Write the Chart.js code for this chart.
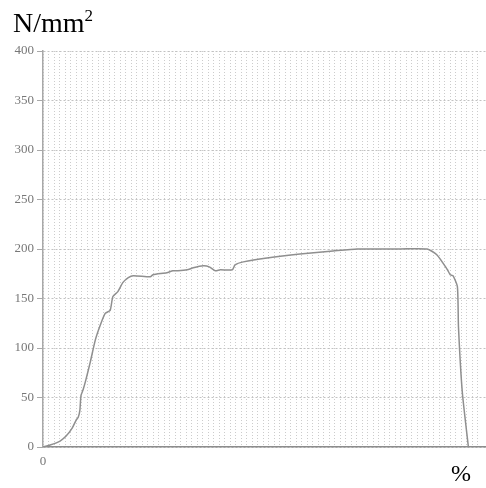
<!DOCTYPE html>
<html>
<head>
<meta charset="utf-8">
<script src="https://cdn.jsdelivr.net/npm/chart.js@4/dist/chart.umd.min.js"></script>
<style>
  body { margin: 0; background: #fff; }
  #wrap { position: relative; width: 486px; height: 488px; }
  #unitY { position: absolute; left: 13px; top: 6px; font-family: "Liberation Serif", serif; font-size: 28px; color: #000; }
  #unitY sup { font-size: 17px; vertical-align: 11px; }
  #unitX { position: absolute; left: 451px; top: 460px; font-family: "Liberation Serif", serif; font-size: 24px; color: #000; }
</style>
</head>
<body>
<div id="wrap">
  <canvas id="stress-chart" width="486" height="488"></canvas>
  <div id="unitY">N/mm<sup>2</sup></div>
  <div id="unitX">%</div>
</div>
<script>
// strain (%) and stress (N/mm2)
const strain = [0, 1.3, 3.1, 4.2, 5.3, 6.0, 6.4, 6.7, 6.9, 7.3, 7.8, 8.6, 9.5, 10.4, 11.3, 12.2, 12.7, 13.6, 14.5, 15.5, 16.4, 19.5, 20.0, 22.5, 23.6, 24.5, 26.2, 27.3, 29.1, 30.2, 31.3, 32.2, 34.4, 34.9, 36.4, 40.7, 46.7, 52.7, 57.1, 64.9, 69.8, 71.6, 73.5, 74.0, 74.5, 75.3, 75.5, 76.2, 77.3];
const stress = [0, 2, 6, 11, 19, 27, 30, 37, 52, 58, 68, 86, 108, 123, 135, 138, 152, 157, 166, 171, 173, 172, 174, 176, 178, 178, 179, 181, 183, 182, 178, 179, 179, 184, 187, 191, 195, 198, 200, 200, 200, 194, 179, 174, 173, 162, 121, 55, 0];
const yTicks = [0, 50, 100, 150, 200, 250, 300, 350, 400];

const points = strain.map((x, i) => ({ x: x, y: stress[i] }));

new Chart(document.querySelector('#stress-chart').getContext('2d'), {
    type: 'line',
    data: {
        datasets: [{
            data: points,
            borderColor: '#8f8f8f',
            borderWidth: 1.5,
            pointRadius: 0,
            tension: 0.2,
            fill: false
        }]
    },
    options: {
        responsive: false,
        animation: false,
        layout: { padding: { top: 51, right: 0, left: 0, bottom: 0 } },
        plugins: { legend: { display: false }, tooltip: { enabled: false } },
        scales: {
            x: {
                type: 'linear',
                min: 0,
                max: 80.5,
                afterFit: scale => { scale.height = 41; scale.paddingRight = 0; },
                border: { color: '#8c8c8c', width: 1.5, dash: [1, 2] },
                grid: {
                    color: '#cccccc',
                    drawTicks: false
                },
                ticks: {
                    stepSize: 1,
                    autoSkip: false,
                    maxRotation: 0,
                    padding: 7,
                    color: '#777',
                    font: { family: 'Liberation Serif', size: 13 },
                    callback: v => v === 0 ? '0' : ''
                }
            },
            y: {
                min: 0,
                max: 400,
                afterFit: scale => { scale.width = 43; },
                afterBuildTicks: scale => { scale.ticks = yTicks.map(v => ({ value: v })); },
                border: { color: '#a8a8a8', width: 1.5, dash: [2, 2] },
                grid: {
                    color: '#c2c2c2',
                    tickLength: 6,
                    tickBorderDash: [],
                    tickColor: '#a8a8a8'
                },
                ticks: {
                    padding: 3,
                    color: '#777',
                    font: { family: 'Liberation Serif', size: 13 }
                }
            }
        }
    }
});
</script>
</body>
</html>
